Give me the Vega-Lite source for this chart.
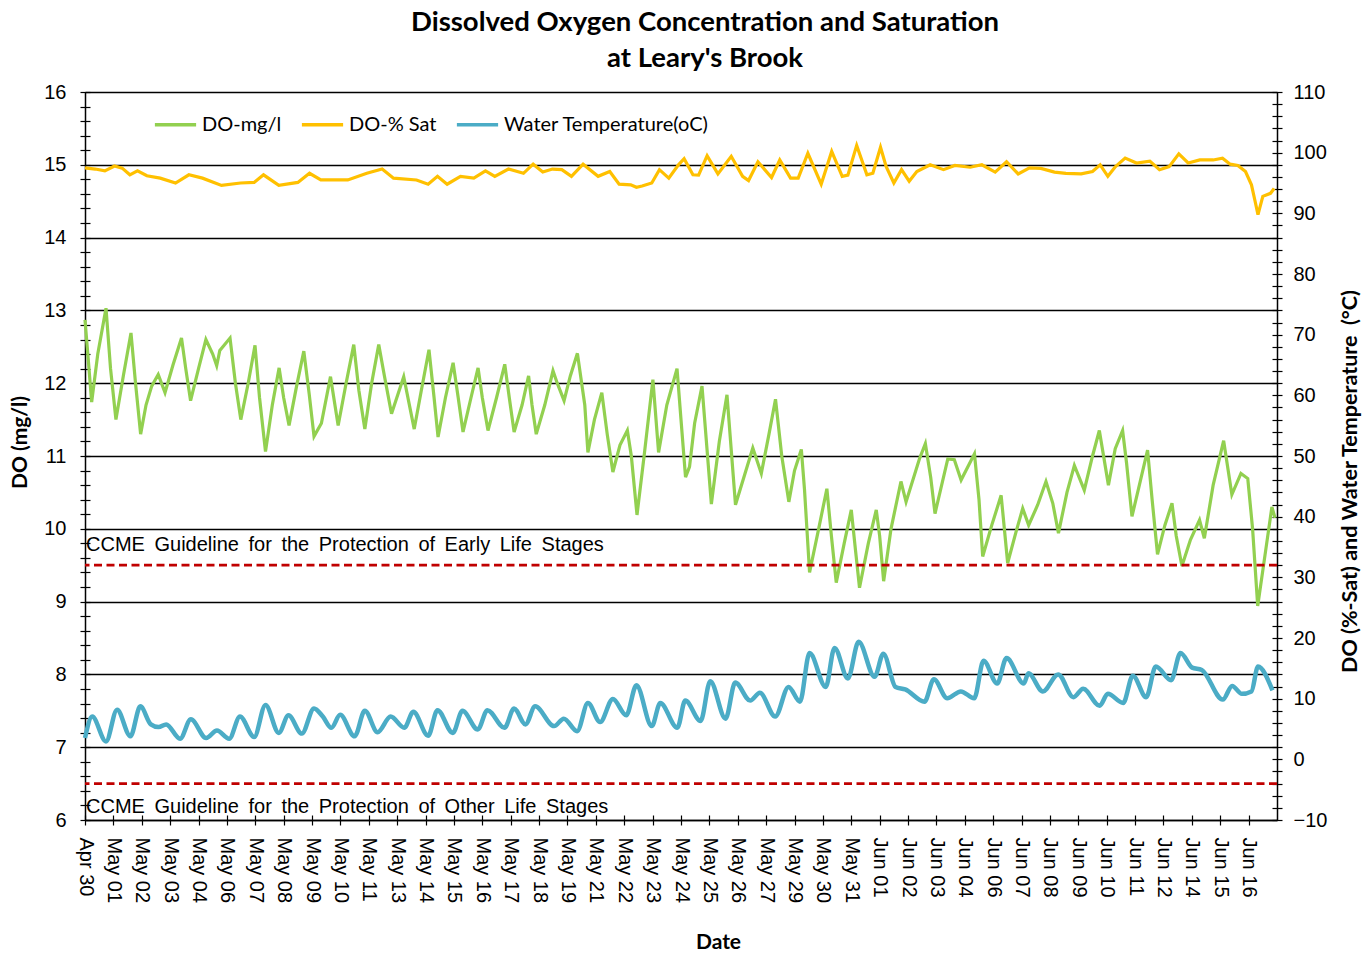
{
  "$schema": "https://vega.github.io/schema/vega-lite/v6.json",
  "width": 1192,
  "height": 728,
  "autosize": {"type": "none"},
  "padding": {"left": 85, "top": 92, "right": 95, "bottom": 133},
  "background": "white",
  "title": {
    "text": ["Dissolved Oxygen Concentration and Saturation", "at Leary's Brook"],
    "font": "Lato",
    "fontSize": 27.5,
    "fontWeight": "bold",
    "color": "#000000",
    "lineHeight": 36,
    "anchor": "middle",
    "frame": "group",
    "dx": 24,
    "offset": 10
  },
  "config": {
    "view": {"stroke": null},
    "font": "Liberation Sans",
    "legend": {
      "orient": "none",
      "legendX": 68,
      "legendY": 10,
      "direction": "horizontal",
      "title": null,
      "symbolType": "stroke",
      "symbolSize": 1700,
      "symbolStrokeWidth": 3.5,
      "labelFont": "Lato",
      "labelFontSize": 20,
      "labelColor": "#000000",
      "labelLimit": 0,
      "labelOffset": 4,
      "columnPadding": 12,
      "padding": 0
    }
  },
  "datasets": {
    "mg": [
      {"t": 0.00, "v": 12.87}, {"t": 0.12, "v": 12.3}, {"t": 0.235, "v": 11.74}, {"t": 0.45, "v": 12.4}, {"t": 0.74, "v": 13.03},
      {"t": 0.9, "v": 12.2}, {"t": 1.09, "v": 11.5}, {"t": 1.35, "v": 12.1}, {"t": 1.62, "v": 12.69}, {"t": 1.78, "v": 12.0},
      {"t": 1.96, "v": 11.3}, {"t": 2.15, "v": 11.7}, {"t": 2.35, "v": 11.96}, {"t": 2.58, "v": 12.12}, {"t": 2.82, "v": 11.87},
      {"t": 3.10, "v": 12.25}, {"t": 3.40, "v": 12.62}, {"t": 3.55, "v": 12.2}, {"t": 3.72, "v": 11.76}, {"t": 4.00, "v": 12.2},
      {"t": 4.26, "v": 12.6}, {"t": 4.50, "v": 12.4}, {"t": 4.64, "v": 12.24}, {"t": 4.75, "v": 12.45}, {"t": 5.11, "v": 12.62},
      {"t": 5.30, "v": 12.0}, {"t": 5.49, "v": 11.5}, {"t": 5.75, "v": 12.0}, {"t": 5.99, "v": 12.52}, {"t": 6.15, "v": 11.8},
      {"t": 6.36, "v": 11.06}, {"t": 6.60, "v": 11.7}, {"t": 6.84, "v": 12.21}, {"t": 7.00, "v": 11.8}, {"t": 7.19, "v": 11.42},
      {"t": 7.45, "v": 11.95}, {"t": 7.71, "v": 12.44}, {"t": 7.90, "v": 11.85}, {"t": 8.07, "v": 11.27}, {"t": 8.33, "v": 11.45},
      {"t": 8.65, "v": 12.09}, {"t": 8.92, "v": 11.42}, {"t": 9.20, "v": 12.0}, {"t": 9.47, "v": 12.53}, {"t": 9.65, "v": 11.9},
      {"t": 9.86, "v": 11.37}, {"t": 10.10, "v": 12.0}, {"t": 10.35, "v": 12.53}, {"t": 10.55, "v": 12.1}, {"t": 10.80, "v": 11.58},
      {"t": 11.23, "v": 12.09}, {"t": 11.60, "v": 11.37}, {"t": 11.85, "v": 11.9}, {"t": 12.12, "v": 12.46}, {"t": 12.30, "v": 11.8},
      {"t": 12.44, "v": 11.26}, {"t": 12.70, "v": 11.8}, {"t": 12.97, "v": 12.28}, {"t": 13.15, "v": 11.8}, {"t": 13.32, "v": 11.33},
      {"t": 13.60, "v": 11.8}, {"t": 13.85, "v": 12.21}, {"t": 14.00, "v": 11.8}, {"t": 14.20, "v": 11.35}, {"t": 14.50, "v": 11.8},
      {"t": 14.79, "v": 12.26}, {"t": 14.95, "v": 11.8}, {"t": 15.12, "v": 11.33}, {"t": 15.40, "v": 11.7}, {"t": 15.63, "v": 12.1},
      {"t": 15.75, "v": 11.7}, {"t": 15.90, "v": 11.3}, {"t": 16.20, "v": 11.7}, {"t": 16.49, "v": 12.17}, {"t": 16.64, "v": 12.0},
      {"t": 16.88, "v": 11.76}, {"t": 17.10, "v": 12.1}, {"t": 17.35, "v": 12.41}, {"t": 17.50, "v": 12.0}, {"t": 17.61, "v": 11.7},
      {"t": 17.72, "v": 11.05}, {"t": 17.95, "v": 11.5}, {"t": 18.21, "v": 11.87}, {"t": 18.40, "v": 11.3}, {"t": 18.60, "v": 10.78},
      {"t": 18.85, "v": 11.15}, {"t": 19.11, "v": 11.35}, {"t": 19.25, "v": 11.0}, {"t": 19.45, "v": 10.19}, {"t": 19.70, "v": 11.0},
      {"t": 20.01, "v": 12.05}, {"t": 20.21, "v": 11.05}, {"t": 20.50, "v": 11.7}, {"t": 20.86, "v": 12.2}, {"t": 21.00, "v": 11.5},
      {"t": 21.16, "v": 10.71}, {"t": 21.30, "v": 10.85}, {"t": 21.48, "v": 11.45}, {"t": 21.74, "v": 11.96}, {"t": 22.07, "v": 10.34},
      {"t": 22.35, "v": 11.2}, {"t": 22.62, "v": 11.84}, {"t": 22.92, "v": 10.33}, {"t": 23.24, "v": 10.74}, {"t": 23.53, "v": 11.11},
      {"t": 23.83, "v": 10.76}, {"t": 24.10, "v": 11.3}, {"t": 24.33, "v": 11.78}, {"t": 24.55, "v": 11.0}, {"t": 24.80, "v": 10.37},
      {"t": 25.00, "v": 10.8}, {"t": 25.24, "v": 11.09}, {"t": 25.35, "v": 10.55}, {"t": 25.53, "v": 9.4}, {"t": 25.85, "v": 10.0},
      {"t": 26.14, "v": 10.55}, {"t": 26.30, "v": 9.9}, {"t": 26.47, "v": 9.26}, {"t": 26.75, "v": 9.8}, {"t": 27.00, "v": 10.26},
      {"t": 27.15, "v": 9.7}, {"t": 27.29, "v": 9.19}, {"t": 27.60, "v": 9.8}, {"t": 27.88, "v": 10.26}, {"t": 28.00, "v": 9.9},
      {"t": 28.14, "v": 9.28}, {"t": 28.40, "v": 10.0}, {"t": 28.75, "v": 10.65}, {"t": 28.93, "v": 10.37}, {"t": 29.40, "v": 10.96},
      {"t": 29.61, "v": 11.17}, {"t": 29.80, "v": 10.7}, {"t": 29.95, "v": 10.21}, {"t": 30.40, "v": 10.96}, {"t": 30.63, "v": 10.95},
      {"t": 30.87, "v": 10.67}, {"t": 31.34, "v": 11.03}, {"t": 31.50, "v": 10.4}, {"t": 31.63, "v": 9.62}, {"t": 31.95, "v": 10.05},
      {"t": 32.28, "v": 10.46}, {"t": 32.51, "v": 9.53}, {"t": 32.80, "v": 9.95}, {"t": 33.04, "v": 10.28}, {"t": 33.25, "v": 10.05},
      {"t": 33.57, "v": 10.33}, {"t": 33.86, "v": 10.65}, {"t": 34.10, "v": 10.35}, {"t": 34.30, "v": 9.94}, {"t": 34.60, "v": 10.5},
      {"t": 34.86, "v": 10.87}, {"t": 35.21, "v": 10.53}, {"t": 35.50, "v": 11.0}, {"t": 35.74, "v": 11.35}, {"t": 36.06, "v": 10.6},
      {"t": 36.30, "v": 11.1}, {"t": 36.56, "v": 11.35}, {"t": 36.70, "v": 10.9}, {"t": 36.89, "v": 10.17}, {"t": 37.15, "v": 10.6},
      {"t": 37.44, "v": 11.08}, {"t": 37.60, "v": 10.4}, {"t": 37.79, "v": 9.65}, {"t": 38.05, "v": 10.05}, {"t": 38.30, "v": 10.35},
      {"t": 38.45, "v": 9.9}, {"t": 38.65, "v": 9.49}, {"t": 38.95, "v": 9.85}, {"t": 39.27, "v": 10.12}, {"t": 39.44, "v": 9.87},
      {"t": 39.75, "v": 10.6}, {"t": 40.12, "v": 11.21}, {"t": 40.41, "v": 10.47}, {"t": 40.73, "v": 10.76}, {"t": 40.97, "v": 10.69},
      {"t": 41.14, "v": 10.0}, {"t": 41.32, "v": 8.94}, {"t": 41.60, "v": 9.7}, {"t": 41.82, "v": 10.3}, {"t": 41.93, "v": 10.15}
    ],
    "temp": [
      {"t": 0.00, "v": 3.5}, {"t": 0.255, "v": 7.05}, {"t": 0.74, "v": 2.95}, {"t": 1.13, "v": 8.17}, {"t": 1.60, "v": 3.79},
      {"t": 1.95, "v": 8.73}, {"t": 2.32, "v": 5.76}, {"t": 2.59, "v": 5.31}, {"t": 2.86, "v": 5.76}, {"t": 3.35, "v": 3.4},
      {"t": 3.73, "v": 6.6}, {"t": 4.27, "v": 3.51}, {"t": 4.65, "v": 4.75}, {"t": 5.08, "v": 3.4}, {"t": 5.46, "v": 7.05},
      {"t": 5.96, "v": 3.68}, {"t": 6.36, "v": 8.95}, {"t": 6.83, "v": 4.36}, {"t": 7.17, "v": 7.27}, {"t": 7.64, "v": 4.24},
      {"t": 8.07, "v": 8.39}, {"t": 8.38, "v": 7.05}, {"t": 8.68, "v": 5.2}, {"t": 8.99, "v": 7.33}, {"t": 9.50, "v": 3.79},
      {"t": 9.86, "v": 8.0}, {"t": 10.31, "v": 4.47}, {"t": 10.77, "v": 7.05}, {"t": 11.25, "v": 5.2}, {"t": 11.57, "v": 7.83},
      {"t": 12.09, "v": 3.9}, {"t": 12.42, "v": 8.11}, {"t": 12.96, "v": 4.36}, {"t": 13.30, "v": 8.0}, {"t": 13.84, "v": 4.92},
      {"t": 14.18, "v": 8.11}, {"t": 14.78, "v": 5.2}, {"t": 15.12, "v": 8.39}, {"t": 15.52, "v": 5.76}, {"t": 15.86, "v": 8.73},
      {"t": 16.53, "v": 5.48}, {"t": 16.87, "v": 6.71}, {"t": 17.34, "v": 4.64}, {"t": 17.72, "v": 9.29}, {"t": 18.15, "v": 6.15},
      {"t": 18.60, "v": 9.96}, {"t": 19.07, "v": 7.27}, {"t": 19.43, "v": 12.2}, {"t": 19.97, "v": 5.48}, {"t": 20.27, "v": 9.29},
      {"t": 20.87, "v": 5.2}, {"t": 21.15, "v": 9.68}, {"t": 21.69, "v": 6.32}, {"t": 22.03, "v": 12.88}, {"t": 22.57, "v": 6.71},
      {"t": 22.91, "v": 12.65}, {"t": 23.44, "v": 9.68}, {"t": 23.78, "v": 10.97}, {"t": 24.32, "v": 7.05}, {"t": 24.79, "v": 11.93},
      {"t": 25.19, "v": 9.51}, {"t": 25.53, "v": 17.53}, {"t": 26.10, "v": 11.93}, {"t": 26.41, "v": 18.37}, {"t": 26.88, "v": 13.33},
      {"t": 27.26, "v": 19.38}, {"t": 27.82, "v": 13.61}, {"t": 28.13, "v": 17.42}, {"t": 28.56, "v": 11.93}, {"t": 28.90, "v": 11.53},
      {"t": 29.58, "v": 9.51}, {"t": 29.91, "v": 13.21}, {"t": 30.38, "v": 10.07}, {"t": 30.86, "v": 11.2}, {"t": 31.33, "v": 10.07},
      {"t": 31.66, "v": 16.24}, {"t": 32.14, "v": 12.49}, {"t": 32.47, "v": 16.69}, {"t": 33.08, "v": 12.49}, {"t": 33.24, "v": 14.17},
      {"t": 33.75, "v": 11.2}, {"t": 34.29, "v": 14.0}, {"t": 34.83, "v": 10.24}, {"t": 35.17, "v": 11.64}, {"t": 35.75, "v": 8.84},
      {"t": 36.04, "v": 10.8}, {"t": 36.58, "v": 9.29}, {"t": 36.92, "v": 13.78}, {"t": 37.39, "v": 10.24}, {"t": 37.73, "v": 15.29},
      {"t": 38.27, "v": 13.05}, {"t": 38.60, "v": 17.53}, {"t": 39.01, "v": 15.12}, {"t": 39.35, "v": 14.73}, {"t": 40.09, "v": 9.85},
      {"t": 40.42, "v": 12.1}, {"t": 40.76, "v": 10.8}, {"t": 41.10, "v": 11.2}, {"t": 41.33, "v": 15.29}, {"t": 41.84, "v": 11.36}
    ],
    "sat": [
      {"t": 0.00, "v": 97.5}, {"t": 0.36, "v": 97.3}, {"t": 0.70, "v": 97.0}, {"t": 1.04, "v": 97.8}, {"t": 1.31, "v": 97.45},
      {"t": 1.58, "v": 96.35}, {"t": 1.85, "v": 97.0}, {"t": 2.18, "v": 96.2}, {"t": 2.65, "v": 95.8}, {"t": 3.19, "v": 95.0},
      {"t": 3.66, "v": 96.35}, {"t": 4.14, "v": 95.8}, {"t": 4.81, "v": 94.6}, {"t": 5.48, "v": 95.0}, {"t": 5.96, "v": 95.1},
      {"t": 6.29, "v": 96.35}, {"t": 6.83, "v": 94.6}, {"t": 7.50, "v": 95.1}, {"t": 7.91, "v": 96.6}, {"t": 8.31, "v": 95.5},
      {"t": 9.26, "v": 95.5}, {"t": 9.93, "v": 96.6}, {"t": 10.47, "v": 97.3}, {"t": 10.87, "v": 95.8}, {"t": 11.68, "v": 95.5},
      {"t": 12.09, "v": 94.8}, {"t": 12.42, "v": 96.1}, {"t": 12.76, "v": 94.8}, {"t": 13.23, "v": 96.1}, {"t": 13.70, "v": 95.8},
      {"t": 14.11, "v": 97.0}, {"t": 14.44, "v": 96.1}, {"t": 14.92, "v": 97.3}, {"t": 15.45, "v": 96.6}, {"t": 15.79, "v": 98.1},
      {"t": 16.13, "v": 96.8}, {"t": 16.47, "v": 97.3}, {"t": 16.80, "v": 97.2}, {"t": 17.14, "v": 96.1}, {"t": 17.55, "v": 98.1},
      {"t": 18.08, "v": 96.1}, {"t": 18.49, "v": 96.9}, {"t": 18.82, "v": 94.8}, {"t": 19.23, "v": 94.7}, {"t": 19.43, "v": 94.3},
      {"t": 19.63, "v": 94.5}, {"t": 19.97, "v": 95.0}, {"t": 20.24, "v": 97.2}, {"t": 20.57, "v": 95.8}, {"t": 20.91, "v": 98.0},
      {"t": 21.11, "v": 99.0}, {"t": 21.42, "v": 96.35}, {"t": 21.62, "v": 96.3}, {"t": 21.92, "v": 99.5}, {"t": 22.30, "v": 96.5},
      {"t": 22.77, "v": 99.4}, {"t": 23.17, "v": 96.1}, {"t": 23.38, "v": 95.4}, {"t": 23.71, "v": 98.5}, {"t": 24.19, "v": 95.9},
      {"t": 24.48, "v": 98.8}, {"t": 24.86, "v": 95.8}, {"t": 25.13, "v": 95.8}, {"t": 25.47, "v": 99.9}, {"t": 25.94, "v": 94.8},
      {"t": 26.31, "v": 100.2}, {"t": 26.68, "v": 96.1}, {"t": 26.88, "v": 96.3}, {"t": 27.19, "v": 101.2}, {"t": 27.55, "v": 96.35},
      {"t": 27.76, "v": 96.6}, {"t": 28.03, "v": 100.9}, {"t": 28.23, "v": 97.7}, {"t": 28.50, "v": 95.0}, {"t": 28.77, "v": 97.2},
      {"t": 29.04, "v": 95.3}, {"t": 29.31, "v": 96.9}, {"t": 29.78, "v": 98.0}, {"t": 30.25, "v": 97.2}, {"t": 30.65, "v": 97.9},
      {"t": 31.19, "v": 97.6}, {"t": 31.60, "v": 98.0}, {"t": 32.07, "v": 96.8}, {"t": 32.47, "v": 98.5}, {"t": 32.88, "v": 96.5},
      {"t": 33.28, "v": 97.5}, {"t": 33.68, "v": 97.4}, {"t": 34.16, "v": 96.8}, {"t": 34.56, "v": 96.6}, {"t": 35.10, "v": 96.5},
      {"t": 35.50, "v": 96.9}, {"t": 35.77, "v": 98.0}, {"t": 36.04, "v": 96.1}, {"t": 36.31, "v": 97.7}, {"t": 36.65, "v": 99.1},
      {"t": 37.05, "v": 98.3}, {"t": 37.52, "v": 98.6}, {"t": 37.86, "v": 97.2}, {"t": 38.20, "v": 97.7}, {"t": 38.54, "v": 99.8},
      {"t": 38.87, "v": 98.3}, {"t": 39.28, "v": 98.8}, {"t": 39.75, "v": 98.8}, {"t": 40.08, "v": 99.1}, {"t": 40.35, "v": 98.1},
      {"t": 40.62, "v": 97.9}, {"t": 40.89, "v": 96.9}, {"t": 41.10, "v": 94.7}, {"t": 41.23, "v": 91.95}, {"t": 41.33, "v": 89.8},
      {"t": 41.50, "v": 92.8}, {"t": 41.77, "v": 93.3}, {"t": 41.90, "v": 94.1}
    ]
  },
  "layer": [
    {
      "layer": [
        {
          "data": {"name": "mg"},
          "mark": {"type": "line", "strokeWidth": 3.2},
          "encoding": {
            "x": {
              "field": "t",
              "type": "quantitative",
              "title": "Date",
              "scale": {"domain": [0, 42], "nice": false, "zero": false},
              "axis": {
                "values": [0,1,2,3,4,5,6,7,8,9,10,11,12,13,14,15,16,17,18,19,20,21,22,23,24,25,26,27,28,29,30,31,32,33,34,35,36,37,38,39,40,41],
                "tickCount": 500,
                "labelExpr": "['Apr 30','May 01','May 02','May 03','May 04','May 06','May 07','May 08','May 09','May 10','May 11','May 13','May 14','May 15','May 16','May 17','May 18','May 19','May 21','May 22','May 23','May 24','May 25','May 26','May 27','May 29','May 30','May 31','Jun 01','Jun 02','Jun 03','Jun 04','Jun 06','Jun 07','Jun 08','Jun 09','Jun 10','Jun 11','Jun 12','Jun 14','Jun 15','Jun 16'][datum.value]",
                "labelAngle": 90,
                "labelAlign": "left",
                "labelBaseline": "middle",
                "labelPadding": 12,
                "labelFont": "Liberation Sans",
                "labelFontSize": 20,
                "labelColor": "#000000",
                "labelOverlap": false,
                "labelFlush": false,
                "grid": false,
                "domainColor": "#000000",
                "domainWidth": 1.5,
                "tickColor": "#000000",
                "tickWidth": 1.2,
                "tickSize": 5,
                "encoding": {"ticks": {"y": {"value": -5}}},
                "titleFont": "Lato",
                "titleFontSize": 21,
                "titleFontWeight": "bold",
                "titleColor": "#000000",
                "titleX": 633,
                "titleY": 122,
                "titleBaseline": "middle"
              }
            },
            "y": {
              "field": "v",
              "type": "quantitative",
              "title": "DO (mg/l)",
              "scale": {"domain": [6, 16], "nice": false, "zero": false},
              "axis": {
                "orient": "left",
                "values": [6,6.2,6.4,6.6,6.8,7,7.2,7.4,7.6,7.8,8,8.2,8.4,8.6,8.8,9,9.2,9.4,9.6,9.8,10,10.2,10.4,10.6,10.8,11,11.2,11.4,11.6,11.8,12,12.2,12.4,12.6,12.8,13,13.2,13.4,13.6,13.8,14,14.2,14.4,14.6,14.8,15,15.2,15.4,15.6,15.8,16],
                "tickCount": 500,
                "labelExpr": "datum.value % 1 === 0 ? format(datum.value, 'd') : ''",
                "labelFont": "Liberation Sans",
                "labelFontSize": 20,
                "labelColor": "#000000",
                "labelPadding": 14,
                "labelOverlap": false,
                "labelFlush": false,
                "grid": true,
                "gridColor": "#000000",
                "gridWidth": 1.3,
                "gridOpacity": {"condition": {"test": "datum.value % 1 === 0", "value": 1}, "value": 0},
                "domainColor": "#000000",
                "domainWidth": 1.5,
                "tickColor": "#000000",
                "tickWidth": 1.2,
                "tickSize": 5,
                "encoding": {"ticks": {"x": {"value": 5}}},
                "titleFont": "Lato",
                "titleFontSize": 21,
                "titleFontWeight": "bold",
                "titleColor": "#000000",
                "titleX": -65,
                "titleY": 350,
                "titleAngle": -90,
                "titleBaseline": "middle",
                "titleAlign": "center"
              }
            },
            "color": {
              "datum": "DO-mg/l",
              "type": "nominal",
              "scale": {
                "domain": ["DO-mg/l", "DO-% Sat", "Water Temperature(oC)"],
                "range": ["#92D050", "#FFC000", "#4BACC6"]
              },
              "legend": {
                "orient": "none",
                "legendX": 68,
                "legendY": 10,
                "direction": "horizontal",
                "title": null,
                "labelLimit": 0
              }
            }
          }
        },
        {
          "data": {"values": [{"guide": "early"}]},
          "mark": {"type": "rule", "color": "#C00000", "strokeWidth": 2.8, "strokeDash": [8, 4.5]},
          "encoding": {"y": {"datum": 9.5, "type": "quantitative"}}
        },
        {
          "data": {"values": [{"guide": "other"}]},
          "mark": {"type": "rule", "color": "#C00000", "strokeWidth": 2.8, "strokeDash": [8, 4.5]},
          "encoding": {"y": {"datum": 6.5, "type": "quantitative"}}
        },
        {
          "data": {"values": [{"guide": "early"}]},
          "mark": {"type": "text", "align": "left", "baseline": "middle", "dx": 1, "font": "Liberation Sans", "fontSize": 20, "color": "#000000"},
          "encoding": {
            "x": {"datum": 0, "type": "quantitative"},
            "y": {"datum": 9.78, "type": "quantitative"},
            "text": {"value": "CCME \u2009Guideline \u2009for \u2009the \u2009Protection \u2009of \u2009Early \u2009Life \u2009Stages"}
          }
        },
        {
          "data": {"values": [{"guide": "other"}]},
          "mark": {"type": "text", "align": "left", "baseline": "middle", "dx": 1, "font": "Liberation Sans", "fontSize": 20, "color": "#000000"},
          "encoding": {
            "x": {"datum": 0, "type": "quantitative"},
            "y": {"datum": 6.18, "type": "quantitative"},
            "text": {"value": "CCME \u2009Guideline \u2009for \u2009the \u2009Protection \u2009of \u2009Other \u2009Life \u2009Stages"}
          }
        }
      ]
    },
    {
      "layer": [
        {
          "data": {"name": "sat"},
          "mark": {"type": "line", "strokeWidth": 3.2},
          "encoding": {
            "x": {"field": "t", "type": "quantitative", "title": "Date"},
            "y": {
              "field": "v",
              "type": "quantitative",
              "title": "DO (%-Sat) and Water Temperature\u00a0 (°C)",
              "scale": {"domain": [-10, 110], "nice": false, "zero": false},
              "axis": {
                "orient": "right",
                "values": [-10,-8,-6,-4,-2,0,2,4,6,8,10,12,14,16,18,20,22,24,26,28,30,32,34,36,38,40,42,44,46,48,50,52,54,56,58,60,62,64,66,68,70,72,74,76,78,80,82,84,86,88,90,92,94,96,98,100,102,104,106,108,110],
                "tickCount": 500,
                "labelExpr": "datum.value % 10 === 0 ? format(datum.value, 'd') : ''",
                "labelFont": "Liberation Sans",
                "labelFontSize": 20,
                "labelColor": "#000000",
                "labelPadding": 11,
                "labelOverlap": false,
                "labelFlush": false,
                "grid": false,
                "domainColor": "#000000",
                "domainWidth": 1.5,
                "tickColor": "#000000",
                "tickWidth": 1.2,
                "tickSize": 5,
                "encoding": {"ticks": {"x": {"value": -5}}},
                "titleFont": "Lato",
                "titleFontSize": 21.5,
                "titleFontWeight": "bold",
                "titleColor": "#000000",
                "titleX": 73,
                "titleY": 389,
                "titleAngle": -90,
                "titleBaseline": "middle",
                "titleAlign": "center"
              }
            },
            "color": {"datum": "DO-% Sat", "type": "nominal"}
          }
        },
        {
          "data": {"name": "temp"},
          "mark": {"type": "line", "strokeWidth": 4.5, "interpolate": "monotone"},
          "encoding": {
            "x": {"field": "t", "type": "quantitative", "title": "Date"},
            "y": {"field": "v", "type": "quantitative", "title": "DO (%-Sat) and Water Temperature\u00a0 (°C)"},
            "color": {"datum": "Water Temperature(oC)", "type": "nominal"}
          }
        }
      ]
    }
  ],
  "resolve": {"scale": {"y": "independent"}}
}
